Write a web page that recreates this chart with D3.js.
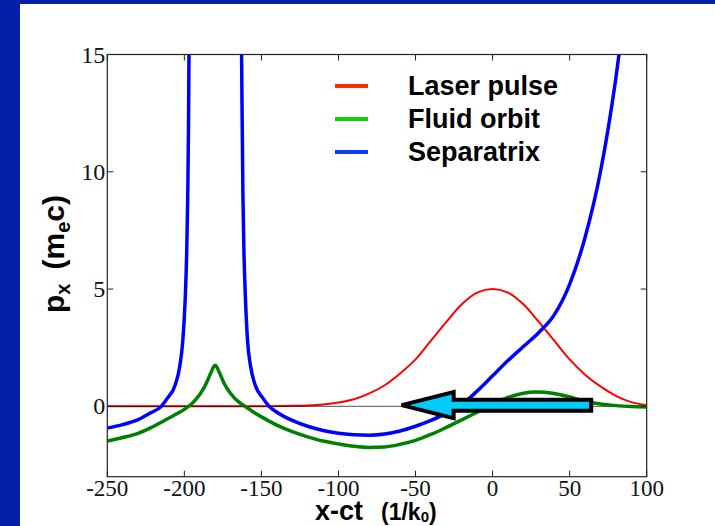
<!DOCTYPE html>
<html>
<head>
<meta charset="utf-8">
<script src="https://cdn.jsdelivr.net/npm/d3@7"></script>
<style>
  body { margin: 0; padding: 0; background: #061fa9; }
  svg { display: block; }
</style>
</head>
<body>
<script>
// laser envelope (red)
var laserX = [-250, -200, -150, -130, -120, -110, -100, -90, -80, -70, -60, -50, -40, -30, -20, -10, 0, 10, 20, 30, 40, 50, 60, 70, 80, 90, 100];
var laserY = [0, 0, 0, 0.02, 0.04, 0.08, 0.16, 0.3, 0.55, 0.9, 1.4, 2.0, 2.8, 3.6, 4.35, 4.85, 5.0, 4.85, 4.35, 3.6, 2.8, 2.0, 1.35, 0.85, 0.45, 0.18, 0.05];

// fluid orbit (green)
var fluidX = [-250, -240, -230, -222, -215, -210, -205, -200, -195, -190, -186, -183, -180, -177, -174, -170, -165, -160, -155, -150, -145, -140, -130, -120, -110, -100, -90, -80, -70, -60, -50, -40, -30, -20, -10, 0, 10, 20, 28, 40, 50, 60, 70, 80, 90, 100];
var fluidY = [-1.48, -1.33, -1.15, -0.92, -0.68, -0.5, -0.32, -0.13, 0.12, 0.5, 0.95, 1.4, 1.75, 1.4, 0.95, 0.55, 0.2, -0.03, -0.25, -0.45, -0.63, -0.8, -1.08, -1.3, -1.48, -1.6, -1.7, -1.75, -1.73, -1.62, -1.45, -1.2, -0.9, -0.58, -0.25, 0.08, 0.38, 0.56, 0.61, 0.55, 0.4, 0.22, 0.1, 0.03, -0.01, -0.03];

// separatrix (blue), two branches either side of the spike
var sepLeftX = [-250, -240, -230, -222, -215, -211, -206, -203, -201, -199.5, -198.5, -197.8, -197.3, -197, -196.8];
var sepLeftY = [-0.93, -0.78, -0.57, -0.28, 0.0, 0.35, 0.9, 1.7, 2.8, 4.5, 6.5, 9, 12, 15, 16];
var sepRightX = [-163, -162.6, -162, -161.3, -160.3, -159, -157, -154, -149, -145, -140, -130, -120, -110, -100, -90, -80, -70, -60, -50, -40, -30, -20, -10, 0, 10, 20, 30, 40, 50, 60, 70, 80, 85];
var sepRightY = [16, 13, 9, 6.5, 4.5, 2.8, 1.7, 0.9, 0.35, 0.0, -0.25, -0.6, -0.85, -1.03, -1.15, -1.21, -1.23, -1.18, -1.05, -0.85, -0.6, -0.3, 0.08, 0.65, 1.3, 1.95, 2.55, 3.15, 3.9, 5.2, 7.2, 10.0, 14.0, 16.5];

var xTicks = [-250, -200, -150, -100, -50, 0, 50, 100];
var yTicks = [0, 5, 10, 15];
var legendNames = ["Laser pulse", "Fluid orbit", "Separatrix"];
var legendColors = ["#ff2a00", "#11cc11", "#0a3cff"];

// arrow annotation (data coords), tail -> tip
var arrowFrom = [64, 0.05];
var arrowTo = [-59, 0.05];

var width = 715,
    height = 526;
var plot = { left: 107.3, top: 54.5, right: 646.7, bottom: 476.7 };

var svg = d3.select("body").append("svg")
  .attr("width", width)
  .attr("height", height);

// blue frame + white page
svg.append("rect").attr("width", width).attr("height", height).attr("fill", "#061fa9");
svg.append("rect").attr("x", 20).attr("y", 4).attr("width", width - 20).attr("height", height - 4).attr("fill", "#ffffff");

var x = d3.scaleLinear().domain([-250, 100]).range([plot.left, plot.right]);
var y = d3.scaleLinear().domain([-3, 15]).range([plot.bottom, plot.top]);

svg.append("defs").append("clipPath").attr("id", "clip")
  .append("rect")
  .attr("x", plot.left).attr("y", plot.top)
  .attr("width", plot.right - plot.left).attr("height", plot.bottom - plot.top);

var g = svg.append("g").attr("clip-path", "url(#clip)");

function zipXY(xs, ys) { return xs.map(function(v, i) { return [v, ys[i]]; }); }

var line = d3.line()
  .x(function(d) { return x(d[0]); })
  .y(function(d) { return y(d[1]); })
  .curve(d3.curveMonotoneX);

// laser
g.append("path").attr("d", line(zipXY(laserX, laserY)))
  .attr("fill", "none").attr("stroke", "#ff0000").attr("stroke-width", 2);

// zero line on top of red baseline
g.append("line")
  .attr("x1", x(-250)).attr("x2", x(100))
  .attr("y1", y(0)).attr("y2", y(0))
  .attr("stroke", "#000").attr("stroke-opacity", 0.55).attr("stroke-width", 1.2);

// fluid orbit
g.append("path").attr("d", line(zipXY(fluidX, fluidY)))
  .attr("fill", "none").attr("stroke", "#008000").attr("stroke-width", 3.5)
  .attr("stroke-linejoin", "round");

// separatrix
[zipXY(sepLeftX, sepLeftY), zipXY(sepRightX, sepRightY)].forEach(function(pts) {
  g.append("path").attr("d", line(pts))
    .attr("fill", "none").attr("stroke", "#0000ff").attr("stroke-width", 3.5)
    .attr("stroke-linejoin", "round");
});

// arrow
var tipX = x(arrowTo[0]), tipY = y(arrowTo[1]),
    tailX = x(arrowFrom[0]), tailY = y(arrowFrom[1]);
var headLen = 52, headHalf = 13, shaftHalf = 5.5;
var arrowPts = [
  [tipX, tipY],
  [tipX + headLen, tipY - headHalf],
  [tipX + headLen, tailY - shaftHalf],
  [tailX, tailY - shaftHalf],
  [tailX, tailY + shaftHalf],
  [tipX + headLen, tailY + shaftHalf],
  [tipX + headLen, tipY + headHalf]
];
svg.append("path")
  .attr("d", "M" + arrowPts.map(function(p) { return p.join(","); }).join("L") + "Z")
  .attr("fill", "#00ccff").attr("stroke", "#000").attr("stroke-width", 4)
  .attr("stroke-linejoin", "miter");

// frame with inward ticks
var axisColor = "#222";
svg.append("rect")
  .attr("x", plot.left).attr("y", plot.top)
  .attr("width", plot.right - plot.left).attr("height", plot.bottom - plot.top)
  .attr("fill", "none").attr("stroke", axisColor).attr("stroke-width", 1.2);

var tickLen = 6;
xTicks.forEach(function(t) {
  svg.append("line").attr("x1", x(t)).attr("x2", x(t)).attr("y1", plot.bottom).attr("y2", plot.bottom - tickLen)
    .attr("stroke", axisColor).attr("stroke-width", 1);
  svg.append("line").attr("x1", x(t)).attr("x2", x(t)).attr("y1", plot.top).attr("y2", plot.top + tickLen)
    .attr("stroke", axisColor).attr("stroke-width", 1);
});
yTicks.forEach(function(t) {
  svg.append("line").attr("x1", plot.left).attr("x2", plot.left + tickLen).attr("y1", y(t)).attr("y2", y(t))
    .attr("stroke", axisColor).attr("stroke-width", 1);
  svg.append("line").attr("x1", plot.right).attr("x2", plot.right - tickLen).attr("y1", y(t)).attr("y2", y(t))
    .attr("stroke", axisColor).attr("stroke-width", 1);
});

// tick labels
var tickFont = "'Liberation Serif', 'DejaVu Serif', serif";
svg.append("g").selectAll("text")
  .data(xTicks)
  .enter().append("text")
  .attr("x", function(d) { return x(d); })
  .attr("y", plot.bottom + 19)
  .attr("text-anchor", "middle")
  .style("font-family", tickFont)
  .style("font-size", "23px")
  .style("fill", "#111")
  .text(function(d) { return d; });

svg.append("g").selectAll("text")
  .data(yTicks)
  .enter().append("text")
  .attr("x", plot.left - 2)
  .attr("y", function(d) { return y(d) + 8; })
  .attr("text-anchor", "end")
  .style("font-family", tickFont)
  .style("font-size", "24px")
  .style("fill", "#111")
  .text(function(d) { return d; });

// axis titles
var labFont = "'Liberation Sans', Arial, sans-serif";
var xl = svg.append("text")
  .attr("x", 315).attr("y", 520)
  .style("font-family", labFont).style("font-weight", "bold")
  .style("fill", "#000");
xl.append("tspan").style("font-size", "27px").text("x-ct");
xl.append("tspan").attr("dx", 18).style("font-size", "23px").text("(1/k");
xl.append("tspan").attr("dy", 2).style("font-size", "15px").text("0");
xl.append("tspan").attr("dy", -2).style("font-size", "23px").text(")");

var yl = svg.append("text")
  .attr("transform", "translate(64," + 254 + ") rotate(-90)")
  .attr("text-anchor", "middle")
  .style("font-family", labFont).style("font-weight", "bold")
  .style("font-size", "30px")
  .style("fill", "#000");
yl.append("tspan").text("p");
yl.append("tspan").attr("dy", 6).style("font-size", "20px").text("x");
yl.append("tspan").attr("dy", -6).attr("dx", 14).text("(m");
yl.append("tspan").attr("dy", 6).style("font-size", "20px").text("e");
yl.append("tspan").attr("dy", -6).text("c)");

// legend
var legend = svg.append("g").selectAll("g")
  .data(legendNames)
  .enter().append("g")
  .attr("transform", function(d, i) { return "translate(335," + (86 + i * 33) + ")"; });
legend.append("line")
  .attr("x1", 0).attr("x2", 33)
  .attr("stroke", function(d, i) { return legendColors[i]; })
  .attr("stroke-width", 4);
legend.append("text")
  .attr("x", 73).attr("y", 9)
  .style("font-family", labFont).style("font-weight", "bold")
  .style("font-size", "27px")
  .style("fill", "#000")
  .text(function(d) { return d; });
</script>
</body>
</html>
